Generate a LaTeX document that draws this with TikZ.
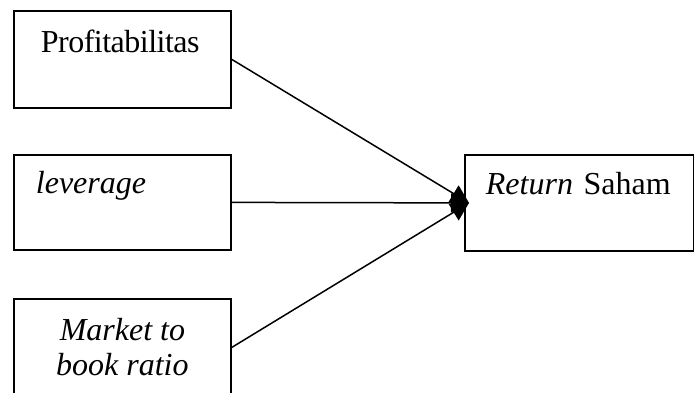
\documentclass[tikz,border=0pt]{standalone}
\usepackage{fontspec}
\setmainfont{Liberation Serif}
\usepackage{tikz}
\usetikzlibrary{arrows.meta, positioning, calc}

\begin{document}
\begin{tikzpicture}[
    x=0.5pt, y=-0.5pt,
    var/.style={rectangle, draw, line width=0.9pt, anchor=north west, inner ysep=0pt, align=left, font=\fontsize{16}{17.5}\selectfont},
    arrow/.style={-{Triangle[length=9pt, width=9.5pt]}, line width=0.75pt}
]
    \useasboundingbox (0,0) rectangle (694,392);

    \node[var, inner xsep=13.5pt, text width=81.5pt, text height=21pt, text depth=27.5pt] (profit) at (13,10) {\addfontfeature{LetterSpace=-1.6}Profitabilitas};
    \node[var, inner xsep=11pt, text width=86.5pt, text height=19.5pt, text depth=28pt] (lev) at (13,154) {\textit{leverage}};
    \node[var, inner sep=0pt, align=center, minimum width=108.5pt, minimum height=48.5pt] (mbr) at (13,298) {\textit{Market to}\\\textit{book ratio}};
    \node[var, inner xsep=10.5pt, text width=93.5pt, text height=20pt, text depth=28pt] (ret) at (464,154) {\textit{Return} Saham};

    \coordinate (tip) at ([xshift=2.5pt]ret.west);

    \draw[arrow] (profit.east) -- (tip);
    \draw[arrow] (lev.east) -- (tip);
    \draw[arrow] (mbr.east) -- (tip);
\end{tikzpicture}
\end{document}
